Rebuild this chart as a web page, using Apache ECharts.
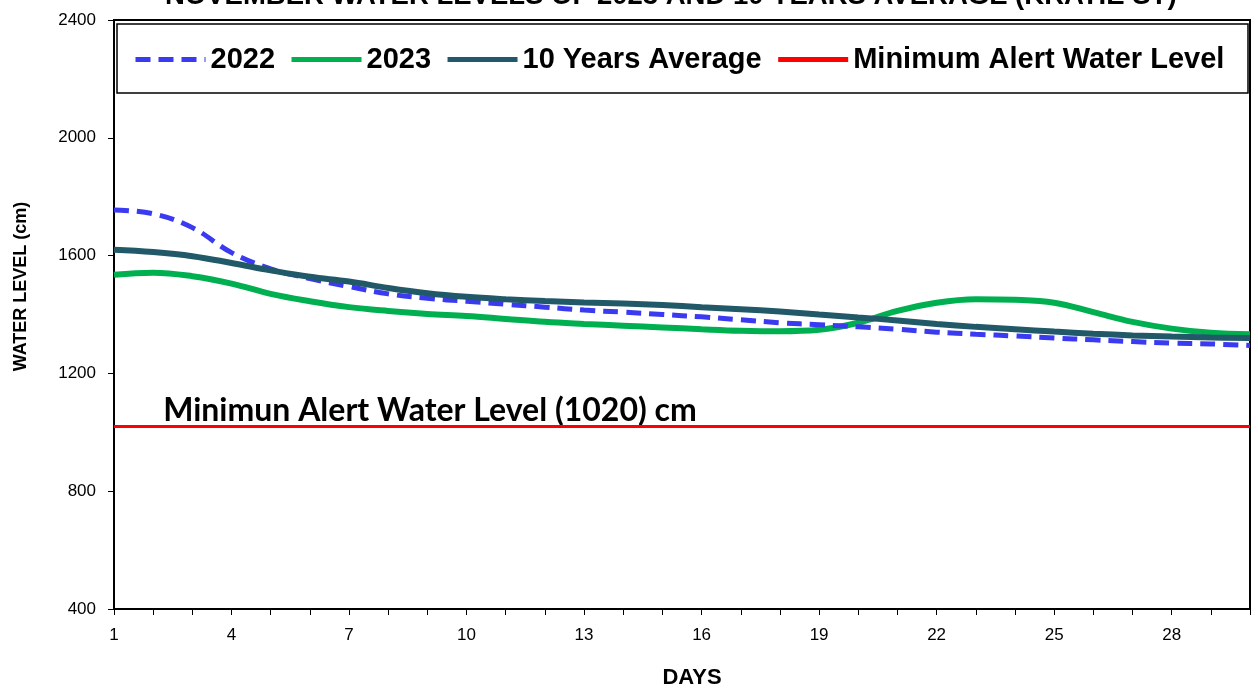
<!DOCTYPE html>
<html lang="en">
<head>
    <meta charset="UTF-8">
    <title>November Water Levels</title>
    <script src="https://cdn.jsdelivr.net/npm/echarts@6/dist/echarts.min.js"></script>
    <style>
        * { margin: 0; padding: 0; }
        body { background: #fff; }
        #chart { width: 1258px; height: 691px; }
    </style>
</head>
<body>
    <div id="chart"></div>
    <script type="text/javascript">
        // days of november
        var days = [];
        for (var d = 1; d <= 30; d++) days.push(String(d));

        // water levels (cm)
        var level2022 = [1755, 1742, 1695, 1610, 1555, 1522, 1495, 1470, 1455, 1445,
            1435, 1425, 1415, 1408, 1400, 1392, 1382, 1372, 1365, 1358,
            1350, 1340, 1333, 1327, 1320, 1314, 1308, 1303, 1300, 1295];
        var level2023 = [1535, 1542, 1530, 1505, 1470, 1445, 1425, 1412, 1402, 1395,
            1385, 1375, 1368, 1362, 1356, 1350, 1345, 1343, 1348, 1372,
            1412, 1440, 1452, 1450, 1440, 1408, 1375, 1352, 1338, 1333];
        var avg10 = [1620, 1612, 1598, 1575, 1550, 1528, 1512, 1490, 1472, 1460,
            1452, 1446, 1441, 1437, 1432, 1425, 1418, 1410, 1400, 1390,
            1380, 1368, 1358, 1350, 1342, 1335, 1329, 1325, 1322, 1320];
        var alertLevel = 1020;
        var alertLine = days.map(function () { return alertLevel; });

        var yTicks = [400, 800, 1200, 1600, 2000, 2400];

        var chart = echarts.init(document.getElementById('chart'));

        var option = {
            backgroundColor: '#fff',
            animation: false,
            title: {
                text: 'NOVEMBER WATER LEVELS OF 2023 AND 10 YEARS AVERAGE (KRATIE ST)',
                left: 160,
                top: -23,
                textStyle: { fontFamily: 'Liberation Sans', fontWeight: 'bold', fontSize: 27.5, color: '#000' }
            },
            grid: {
                left: 114, right: 8, top: 20, bottom: 82,
                outerBoundsMode: 'none',
                containLabel: false,
                show: true, borderColor: '#000', borderWidth: 2
            },
            legend: {
                left: 128, top: 40,
                itemWidth: 70, itemHeight: 14, itemGap: 14,
                itemStyle: { opacity: 0 },
                lineStyle: { width: 5 },
                textStyle: { fontFamily: 'Liberation Sans', fontWeight: 'bold', fontSize: 29, color: '#000' },
                data: ['2022', '2023', '10 Years Average', 'Minimum Alert Water Level']
            },
            graphic: [{
                type: 'rect',
                shape: { x: 117, y: 24, width: 1131, height: 69 },
                style: { fill: 'none', stroke: '#000', lineWidth: 1.5 },
                z: 100
            }],
            xAxis: {
                type: 'category',
                data: days,
                boundaryGap: false,
                name: 'DAYS',
                nameLocation: 'middle',
                nameGap: 58,
                nameTextStyle: { fontFamily: 'Liberation Sans', fontWeight: 'bold', fontSize: 22, color: '#000', padding: [0, 0, 0, 20] },
                axisLine: { lineStyle: { color: '#000', width: 2 } },
                axisTick: { interval: 0, length: 6, lineStyle: { color: '#000' } },
                axisLabel: { interval: 2, margin: 18, fontFamily: 'Liberation Sans', fontSize: 17, color: '#000' },
                splitLine: { show: false }
            },
            yAxis: {
                type: 'value',
                min: yTicks[0], max: yTicks[yTicks.length - 1], interval: 400,
                name: 'WATER LEVEL (cm)',
                nameLocation: 'middle',
                nameGap: 84,
                nameTextStyle: { fontFamily: 'Liberation Sans', fontWeight: 'bold', fontSize: 18, color: '#000', padding: [0, 0, 0, 56] },
                axisLine: { show: true, lineStyle: { color: '#000', width: 2 } },
                axisTick: { show: true, length: 6, lineStyle: { color: '#000' } },
                axisLabel: {
                    margin: 18, fontFamily: 'Liberation Sans', fontSize: 17, color: '#000',
                    formatter: function (v) { return String(v); }
                },
                splitLine: { show: false }
            },
            series: [{
                name: '2022',
                type: 'line',
                data: level2022,
                smooth: 0.4,
                symbol: 'none',
                color: '#3a3af0',
                lineStyle: { width: 5, type: [15, 8], color: '#3a3af0' },
                z: 3
            }, {
                name: '2023',
                type: 'line',
                data: level2023,
                smooth: 0.4,
                symbol: 'none',
                color: '#00b050',
                lineStyle: { width: 6, color: '#00b050' },
                z: 2
            }, {
                name: '10 Years Average',
                type: 'line',
                data: avg10,
                smooth: 0.4,
                symbol: 'none',
                color: '#215968',
                lineStyle: { width: 6, color: '#215968' },
                z: 4
            }, {
                name: 'Minimum Alert Water Level',
                type: 'line',
                data: alertLine,
                symbol: 'none',
                color: '#ff0000',
                lineStyle: { width: 3, color: '#ff0000' },
                z: 5,
                markPoint: {
                    symbol: 'circle',
                    symbolSize: 0,
                    data: [{
                        coord: [1, 1075],
                        label: {
                            show: true,
                            position: 'right',
                            distance: 10,
                            formatter: 'Minimun Alert Water Level (1020) cm',
                            fontFamily: 'Lato',
                            fontWeight: 'bold',
                            fontSize: 32,
                            color: '#000'
                        }
                    }]
                }
            }]
        };

        chart.setOption(option);
    </script>
</body>
</html>
